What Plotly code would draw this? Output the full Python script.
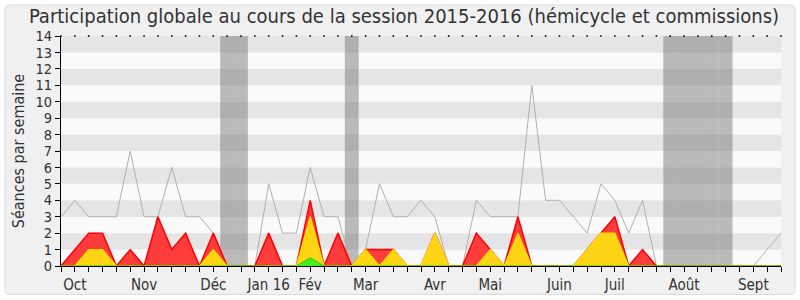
import plotly.graph_objects as go

# ---- data (one value per week, week 0 = end of Sept 2015) ----
weeks = list(range(53))
seances = [3, 4, 3, 3, 3, 7, 3, 3, 6, 3, 3, 2, 0, 0, 0, 5, 2, 2, 6, 3,
           3, 0, 1, 5, 3, 3, 4, 3, 0, 0, 4, 3, 3, 3, 11, 4, 4, 3, 2, 5,
           4, 2, 4, 0, 0, 0, 0, 0, 0, 0, 0, 1, 2]
commission = [0, 1, 2, 2, 0, 1, 0, 3, 1, 2, 0, 2, 0, 0, 0, 2, 0, 0, 4, 0,
              2, 0, 1, 1, 1, 0, 0, 2, 0, 0, 2, 1, 0, 3, 0, 0, 0, 0, 1, 2,
              3, 0, 1, 0, 0, 0, 0, 0, 0, 0, 0, 0, 0]
hemicycle = [0, 0, 1, 1, 0, 0, 0, 0, 0, 0, 0, 1, 0, 0, 0, 0, 0, 0, 3, 0,
             0, 0, 1, 0, 1, 0, 0, 2, 0, 0, 0, 1, 0, 2, 0, 0, 0, 0, 1, 2,
             2, 0, 0, 0, 0, 0, 0, 0, 0, 0, 0, 0, 0]
interventions = [0, 0, 0, 0, 0, 0, 0, 0, 0, 0, 0, 0, 0, 0, 0, 0, 0, 0, 0.5, 0,
                 0, 0, 0, 0, 0, 0, 0, 0, 0, 0, 0, 0, 0, 0, 0, 0, 0, 0, 0, 0,
                 0, 0, 0, 0, 0, 0, 0, 0, 0, 0, 0, 0, 0]
questions_weeks = [40]
questions_vals = [0.85]
vacances = [12, 13, 21, 44, 45, 46, 47, 48]
month_weeks = [1, 6, 11, 15, 18, 22, 27, 31, 36, 40, 45, 50]
month_labels = ["Oct", "Nov", "Déc", "Jan 16", "Fév", "Mar", "Avr", "Mai",
                "Juin", "Juil", "Août", "Sept"]
y_max = 14

FONT = "DejaVu Sans Condensed, DejaVu Sans"
TXT = "#333333"

fig = go.Figure()

fig.add_trace(go.Scatter(x=weeks, y=seances, mode="lines",
                         line=dict(color="#b0b0b0", width=1), hoverinfo="skip"))
fig.add_trace(go.Scatter(x=weeks, y=commission, mode="lines", fill="tozeroy",
                         fillcolor="rgba(255,40,40,0.9)",
                         line=dict(color="#ff0000", width=1.5), hoverinfo="skip"))
fig.add_trace(go.Scatter(x=weeks, y=hemicycle, mode="lines", fill="tozeroy",
                         fillcolor="#ffd414",
                         line=dict(color="#ffe000", width=1.2), hoverinfo="skip"))
fig.add_trace(go.Scatter(x=weeks, y=interventions, mode="lines", fill="tozeroy",
                         fillcolor="#44ee22",
                         line=dict(color="#22cc00", width=1), hoverinfo="skip"))
fig.add_trace(go.Bar(x=questions_weeks, y=questions_vals, width=0.3,
                     marker=dict(color="#2222dd", line=dict(width=0)), hoverinfo="skip"))
# small dots along the top edge
fig.add_trace(go.Scatter(x=weeks, y=[y_max] * len(weeks), mode="markers",
                         marker=dict(symbol="square", size=1.6, color="#000000"),
                         cliponaxis=False, hoverinfo="skip"))

shapes = []
# frame (paper coords relative to plot area: l=61, t=36, w=720, h=230)
def px(xp):
    return (xp - 61) / 720.0
def py(yp):
    return (266 - yp) / 230.0
x0, x1, y0, y1 = px(5), px(795), py(294.5), py(5)
rx, ry = 5 / 720.0, 5 / 230.0
path = (f"M{x0+rx},{y1} L{x1-rx},{y1} Q{x1},{y1} {x1},{y1-ry} "
        f"L{x1},{y0+ry} Q{x1},{y0} {x1-rx},{y0} L{x0+rx},{y0} "
        f"Q{x0},{y0} {x0},{y0+ry} L{x0},{y1-ry} Q{x0},{y1} {x0+rx},{y1} Z")
shapes.append(dict(type="path", path=path, xref="paper", yref="paper",
                   fillcolor="#f0f0f0", line=dict(color="#dcdcdc", width=1),
                   layer="below"))
# stripes
for i in range(y_max):
    shapes.append(dict(type="rect", xref="paper", yref="y", x0=0, x1=1,
                       y0=i, y1=i + 1, line=dict(width=0),
                       fillcolor="#e5e5e5" if i % 2 == 1 else "#fafafa",
                       layer="below"))
# holidays
for w in vacances:
    shapes.append(dict(type="rect", xref="x", yref="paper", x0=w - 0.5, x1=w + 0.5,
                       y0=0, y1=1, line=dict(width=0),
                       fillcolor="rgba(118,118,118,0.48)", layer="below"))

ticktext = []
for w in weeks:
    ticktext.append(month_labels[month_weeks.index(w)] if w in month_weeks else "")

fig.update_layout(
    width=800, height=300,
    margin=dict(l=61, r=19, t=36, b=34, autoexpand=False),
    paper_bgcolor="#ffffff",
    plot_bgcolor="rgba(0,0,0,0)",
    showlegend=False,
    shapes=shapes,
    title=dict(text="Participation globale au cours de la session 2015-2016 (hémicycle et commissions)",
               x=0.505, xanchor="center", y=0.948, yanchor="middle",
               font=dict(family=FONT, size=20, color=TXT)),
    font=dict(family=FONT, size=15, color=TXT),
    bargap=0,
)
fig.update_xaxes(range=[0, 52], tickmode="array", tickvals=weeks, ticktext=ticktext,
                 ticks="outside", ticklen=5, tickcolor="#000000", showgrid=False,
                 zeroline=False, showline=True, linecolor="#000000", linewidth=1,
                 automargin=False,
                 tickfont=dict(family=FONT, size=15, color=TXT), fixedrange=True)
fig.update_yaxes(range=[0, y_max], tickmode="linear", tick0=0, dtick=1,
                 ticks="outside", ticklen=5, tickcolor="#000000", showgrid=False,
                 zeroline=False, showline=True, linecolor="#000000", linewidth=1,
                 automargin=False,
                 title=dict(text="Séances par semaine", standoff=6,
                            font=dict(family=FONT, size=16, color=TXT)),
                 tickfont=dict(family=FONT, size=14.5, color=TXT), fixedrange=True)

fig.write_html("out.html")
